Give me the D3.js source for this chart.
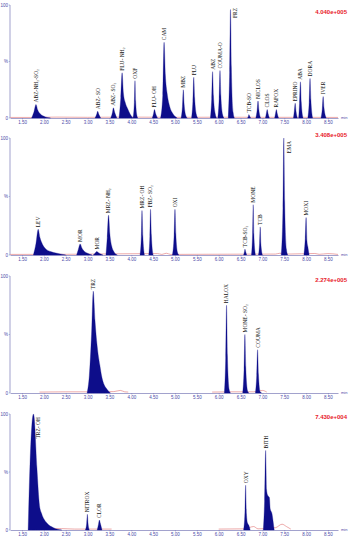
<!DOCTYPE html>
<html>
<head>
<meta charset="utf-8">
<script src="https://cdn.jsdelivr.net/npm/d3@7/dist/d3.min.js"></script>
<style>
  html, body { margin: 0; padding: 0; background: #fff; }
  svg { display: block; }
  .tick text { fill: #4a4aa8; }
</style>
</head>
<body>
<div id="chart"></div>
<script>
// retention time ticks (min)
var xTicks = [1.5, 2.0, 2.5, 3.0, 3.5, 4.0, 4.5, 5.0, 5.5, 6.0, 6.5, 7.0, 7.5, 8.0, 8.5];

// full-scale intensity of each trace
var scaleLabels = ["4.040e+005", "3.408e+005", "2.274e+005", "7.430e+004"];

// peaks per trace: name + [time, %] points
var peaks1 = [
  { name: "ABZ-NH₂-SO₂", pts: [[1.72,0],[1.77,5],[1.82,12],[1.86,7],[1.92,3.5],[2.0,1.5],[2.15,0]] },
  { name: "ABZ- SO", pts: [[3.17,0],[3.21,3.5],[3.23,6],[3.26,3],[3.30,0]] },
  { name: "ABZ- SO₂", pts: [[3.53,0],[3.57,5],[3.59,9],[3.62,5],[3.67,0]] },
  { name: "FLU- NH₂", pts: [[3.72,0],[3.76,18],[3.79,40],[3.82,22],[3.86,14],[3.92,8],[3.98,3],[4.04,0]] },
  { name: "OXF", pts: [[4.04,0],[4.07,14],[4.085,33],[4.10,15],[4.13,2],[4.15,0]] },
  { name: "FLU- OH", pts: [[4.48,0],[4.51,4],[4.53,7.5],[4.56,3.5],[4.60,0]] },
  { name: "CAM", pts: [[4.67,0],[4.72,20],[4.75,67],[4.78,38],[4.82,22],[4.88,10],[4.95,4],[5.05,0]] },
  { name: "MBZ", pts: [[5.14,0],[5.17,10],[5.19,25],[5.21,12],[5.25,2],[5.28,0]] },
  { name: "FLU", pts: [[5.38,0],[5.41,15],[5.43,36],[5.45,18],[5.49,3],[5.52,0]] },
  { name: "ABZ", pts: [[5.81,0],[5.84,17],[5.86,41],[5.88,20],[5.92,4],[5.95,0]] },
  { name: "COUMA-O", pts: [[5.98,0],[6.01,17],[6.03,42],[6.05,20],[6.09,3],[6.12,0]] },
  { name: "FRZ", pts: [[6.22,0],[6.25,40],[6.27,96],[6.29,45],[6.33,5],[6.36,0]] },
  { name: "TCB-SO", pts: [[6.66,0],[6.68,1.5],[6.69,3],[6.71,1.5],[6.73,0]] },
  { name: "NICLOS", pts: [[6.85,0],[6.88,7],[6.90,15],[6.92,7],[6.96,0]] },
  { name: "CLOS", pts: [[7.07,0],[7.09,4],[7.11,7.5],[7.13,4],[7.16,0]] },
  { name: "RAFOX", pts: [[7.28,0],[7.30,4],[7.32,7.5],[7.34,4],[7.37,0]] },
  { name: "EPRINO", pts: [[7.71,0],[7.73,6],[7.75,13],[7.77,6],[7.80,0]] },
  { name: "ABA", pts: [[7.83,0],[7.85,13],[7.87,32],[7.89,14],[7.93,0]] },
  { name: "DORA", pts: [[8.04,0],[8.07,14],[8.09,35],[8.11,16],[8.15,0]] },
  { name: "IVER", pts: [[8.34,0],[8.37,8],[8.39,19],[8.41,9],[8.46,0]] }
];

var peaks2 = [
  { name: "LEV", pts: [[1.76,0],[1.82,10],[1.87,22],[1.91,15],[1.97,9],[2.05,5],[2.15,3],[2.3,1.5],[2.5,0]] },
  { name: "MOR", pts: [[2.75,0],[2.79,5],[2.83,9.5],[2.87,6],[2.93,3],[3.0,1.5],[3.1,0]] },
  { name: "MOR", pts: [[3.13,0],[3.18,2],[3.21,3],[3.25,2],[3.3,0.8],[3.35,0]] },
  { name: "MRZ- NH₂", pts: [[3.42,0],[3.45,15],[3.48,34],[3.51,18],[3.55,8],[3.6,3],[3.68,0]] },
  { name: "MRZ- OH", pts: [[4.20,0],[4.23,16],[4.245,38],[4.265,16],[4.30,0]] },
  { name: "FBZ- SO₂", pts: [[4.40,0],[4.425,16],[4.44,39],[4.46,17],[4.50,0]] },
  { name: "OXI", pts: [[4.94,0],[4.98,17],[5.0,39],[5.02,18],[5.06,2],[5.09,0]] },
  { name: "TCB-SO₂", pts: [[6.57,0],[6.59,3],[6.60,5],[6.62,2.5],[6.64,0]] },
  { name: "MONE", pts: [[6.75,0],[6.775,18],[6.79,43],[6.805,18],[6.84,0]] },
  { name: "TCB", pts: [[6.91,0],[6.935,10],[6.95,24],[6.965,10],[7.0,0]] },
  { name: "EMA", pts: [[7.43,0],[7.47,40],[7.49,100],[7.51,45],[7.55,5],[7.58,0]] },
  { name: "MOXI", pts: [[7.95,0],[7.98,14],[8.0,32],[8.02,12],[8.04,7],[8.07,0]] }
];

var peaks3 = [
  { name: "TRZ", pts: [[2.99,0],[3.04,15],[3.09,50],[3.13,87],[3.17,62],[3.22,40],[3.28,24],[3.33,13],[3.38,7],[3.44,3.5],[3.52,0]] },
  { name: "HALOX", pts: [[6.13,0],[6.16,30],[6.18,75],[6.20,32],[6.24,3],[6.27,0]] },
  { name: "MONE- SO₂", pts: [[6.55,0],[6.58,20],[6.60,50],[6.62,22],[6.66,2],[6.69,0]] },
  { name: "COUMA", pts: [[6.84,0],[6.87,15],[6.89,37],[6.91,16],[6.95,1],[6.98,0]] }
];

var peaks4 = [
  { name: "TRZ- OH", pts: [[1.64,0],[1.68,54],[1.745,98],[1.76,100],[1.775,98],[1.84,54],[1.90,21],[1.95,14],[2.07,6],[2.22,2],[2.41,0]] },
  { name: "NITROX", pts: [[2.95,0],[2.98,6],[2.995,13.5],[3.01,6],[3.04,0]] },
  { name: "CLOR", pts: [[3.22,0],[3.25,5],[3.27,8.6],[3.29,6],[3.33,0]] },
  { name: "OXY", pts: [[6.57,0],[6.60,15],[6.617,38.6],[6.635,14],[6.66,6],[6.69,4],[6.72,0]] },
  { name: "BITH", pts: [[7.02,0],[7.05,25],[7.075,68.6],[7.095,35],[7.12,30],[7.16,28],[7.18,18],[7.22,14],[7.25,6],[7.27,0]] }
];

// second (red) trace segments per panel
var noise1 = [[[1.23,0.5],[1.7,0.5],[2.3,0.8],[3.0,0.6],[4.0,0.8],[5.0,0.6],[6.0,0.7],[7.0,0.6],[8.0,0.6],[8.73,0.5]]];
var noise2 = [[[1.23,0.5],[2.5,0.6],[3.7,1.0],[4.6,1.2],[4.7,0.5],[4.8,1.5],[4.9,0.5],[5.5,0.6],[7.3,0.8],[7.4,1.5],[7.6,0.8],[8.2,1.3],[8.3,0.6],[8.5,1.2],[8.73,0.5]]];
var noise3 = [[[1.9,0.8],[2.5,1],[3.0,1],[3.6,1.2],[3.75,2.2],[3.85,1],[3.93,0.8]],
              [[5.85,0.8],[6.3,1],[6.8,1],[7.0,2.2],[7.1,0.8]]];
var noise4 = [[[1.9,1],[2.4,1.2],[2.7,0.8],[3.55,0.8]],
              [[6.0,0.8],[6.6,1],[6.8,3],[6.9,1],[7.3,2],[7.45,5],[7.55,3],[7.65,0.8]]];

var allPeaks = [peaks1, peaks2, peaks3, peaks4];
var allNoise = [noise1, noise2, noise3, noise4];

// layout
var width = 353, height = 545;
var tops = [5, 138, 276, 414], bottoms = [118, 255, 393, 530];
var scaleLabelY = [14, 137, 282, 419];

var svg = d3.select("#chart").append("svg")
  .attr("width", width)
  .attr("height", height);

var x = d3.scaleLinear().domain([1.225, 8.73]).range([10, 338]);

allPeaks.forEach(function(peaks, i) {
  var y = d3.scaleLinear().domain([0, 100]).range([bottoms[i], tops[i]]);
  var g = svg.append("g").attr("class", "panel");

  // y axis
  g.append("line")
    .attr("x1", 10).attr("x2", 10)
    .attr("y1", y(100)).attr("y2", y(0))
    .attr("stroke", "#7a7ab8").attr("stroke-width", 0.7);
  [[100, "100"], [50, "%"], [0, "0"]].forEach(function(t) {
    g.append("text")
      .attr("x", 8).attr("y", y(t[0]))
      .attr("dy", "0.35em")
      .attr("text-anchor", "end")
      .style("font", "4.5px 'Liberation Sans', Arial, sans-serif")
      .style("fill", "#4a4aa8")
      .text(t[1]);
    g.append("line")
      .attr("x1", 8.8).attr("x2", 10)
      .attr("y1", y(t[0])).attr("y2", y(t[0]))
      .attr("stroke", "#7a7ab8").attr("stroke-width", 0.5);
  });

  // x axis
  var xAxis = d3.axisBottom(x)
    .tickValues(xTicks)
    .tickSizeInner(1.5)
    .tickSizeOuter(0)
    .tickPadding(1.5)
    .tickFormat(d3.format(".2f"));

  var ax = g.append("g")
    .attr("transform", "translate(0," + y(0) + ")")
    .call(xAxis);
  ax.select(".domain").attr("stroke", "#7a7ab8").attr("stroke-width", 0.7);
  ax.selectAll(".tick line").attr("stroke", "#7a7ab8").attr("stroke-width", 0.5);
  ax.selectAll(".tick text")
    .style("font", "4.5px 'Liberation Sans', Arial, sans-serif");

  g.append("text")
    .attr("x", 341).attr("y", y(0))
    .attr("dy", "0.35em")
    .style("font", "4px 'Liberation Sans', Arial, sans-serif")
    .style("fill", "#4a4aa8")
    .text("min");

  // red trace
  var line = d3.line()
    .x(function(d) { return x(d[0]); })
    .y(function(d) { return y(d[1]); })
    .curve(d3.curveMonotoneX);
  g.selectAll(".noise")
    .data(allNoise[i])
    .enter().append("path")
    .attr("class", "noise")
    .attr("d", line)
    .attr("fill", "none")
    .attr("stroke", "#e07070")
    .attr("stroke-width", 0.6);

  // peaks
  var area = d3.area()
    .x(function(d) { return x(d[0]); })
    .y0(y(0))
    .y1(function(d) { return y(d[1]); })
    .curve(d3.curveMonotoneX);

  g.selectAll(".peak")
    .data(peaks)
    .enter().append("path")
    .attr("class", "peak")
    .attr("d", function(d) { return area(d.pts); })
    .attr("fill", "#0d0d8a")
    .attr("stroke", "#0d0d8a")
    .attr("stroke-width", 0.3);

  // peak labels
  peaks.forEach(function(p) {
    var apex = p.pts.reduce(function(a, b) { return b[1] > a[1] ? b : a; });
    var lx, ly, anchor;
    if (apex[1] > 90) {
      // no room above: label beside the peak, hanging from the top
      lx = x(apex[0]) + 5;
      ly = y(100) + 3;
      anchor = "end";
    } else {
      lx = x(apex[0]);
      ly = y(apex[1]) - 2;
      anchor = "start";
    }
    g.append("text")
      .attr("transform", "translate(" + lx + "," + ly + ") rotate(-90)")
      .attr("dy", "0.35em")
      .attr("text-anchor", anchor)
      .style("font", "5.5px 'Liberation Serif', 'Times New Roman', serif")
      .style("fill", "#111")
      .text(p.name);
  });

  // full-scale label
  g.append("text")
    .attr("x", 347).attr("y", scaleLabelY[i])
    .attr("text-anchor", "end")
    .style("font", "bold 6px 'Liberation Sans', Arial, sans-serif")
    .style("fill", "#e8202a")
    .text(scaleLabels[i]);
});
</script>
</body>
</html>
